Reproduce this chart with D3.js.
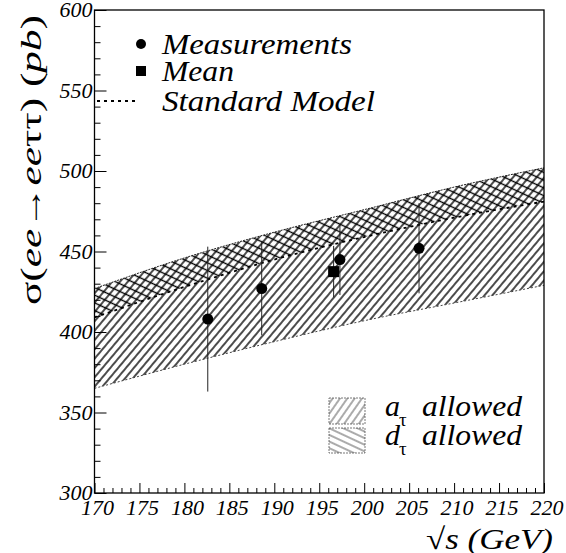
<!DOCTYPE html>
<html><head><meta charset="utf-8">
<script src="https://cdn.jsdelivr.net/npm/d3@7"></script>
</head><body style="margin:0"><svg id="c" width="566" height="553"></svg>
<script>
// ---- data ----
const energies = [170, 180, 190, 200, 210, 220];
const aUpper   = [427, 446, 462, 476, 490, 502];
const smLine   = [409, 428, 445, 459, 471, 481];
const aLower   = [365, 380, 394, 407, 418, 429];
const measX    = [182.6, 188.6, 197.3, 206.1];
const measY    = [408, 427, 445, 452];
const measErr  = [45, 29, 22, 28];
const meanX    = [196.6];
const meanY    = [437.5];
const meanErr  = [16];
const xTickLabels = [170, 175, 180, 185, 190, 195, 200, 205, 210, 215, 220];
const yTickLabels = [300, 350, 400, 450, 500, 550, 600];

const svg = d3.select("#c");
const x = d3.scaleLinear().domain([170, 220]).range([94.5, 544]);
const y = d3.scaleLinear().domain([300, 600]).range([493, 10]);
const ST_I = "font-family:'Liberation Serif';font-style:italic";
const ST_N = "font-family:'Liberation Serif';font-style:normal";

const defs = svg.append("defs");
function hatch(id, w, rot, horiz, color, sw) {
  const p = defs.append("pattern").attr("id", id).attr("patternUnits", "userSpaceOnUse")
    .attr("width", w).attr("height", w).attr("patternTransform", `rotate(${rot})`);
  if (horiz) p.append("line").attr("x1", -1).attr("y1", w / 2).attr("x2", w + 1).attr("y2", w / 2);
  else p.append("line").attr("x1", w / 2).attr("y1", -1).attr("x2", w / 2).attr("y2", w + 1);
  p.select("line").attr("stroke", color).attr("stroke-width", sw);
}
hatch("hatchA", 6, 40, false, "#000", 1.4);
hatch("hatchD", 7, 25, true, "#000", 1.4);
hatch("hatchAL", 6, 35, false, "#444", 0.9);
hatch("hatchDL", 6, 25, true, "#444", 0.9);

const idx = d3.range(energies.length);
const area = (lo, hi) => d3.area().curve(d3.curveMonotoneX)
  .x(i => x(energies[i])).y0(i => y(lo[i])).y1(i => y(hi[i]))(idx);
const line = arr => d3.line().curve(d3.curveMonotoneX).x(i => x(energies[i])).y(i => y(arr[i]))(idx);

svg.append("path").attr("d", area(aLower, aUpper)).attr("fill", "url(#hatchA)");
svg.append("path").attr("d", area(smLine, aUpper)).attr("fill", "url(#hatchD)");
svg.append("path").attr("d", line(aUpper)).attr("fill", "none").attr("stroke", "#222").attr("stroke-width", 1).attr("stroke-dasharray", "2,1");
svg.append("path").attr("d", line(aLower)).attr("fill", "none").attr("stroke", "#444").attr("stroke-width", 1).attr("stroke-dasharray", "2,2");
svg.append("path").attr("d", line(smLine)).attr("fill", "none").attr("stroke", "#000").attr("stroke-width", 1.8).attr("stroke-dasharray", "3,4");

// frame
svg.append("rect").attr("x", x(170)).attr("y", y(600)).attr("width", x(220) - x(170)).attr("height", y(300) - y(600))
  .attr("fill", "none").attr("stroke", "#000").attr("stroke-width", 1.3);

// ticks
const yAxis = d3.axisRight(y).tickValues(d3.range(300, 601, 10)).tickSize(0).tickFormat("");
const gy = svg.append("g").attr("transform", `translate(${x(170)},0)`).call(yAxis);
gy.select(".domain").remove();
gy.selectAll(".tick line").attr("x2", d => d % 50 === 0 ? 12 : 6).attr("stroke", "#000");
const xAxis = d3.axisTop(x).tickValues(d3.range(170, 221, 1)).tickSize(0).tickFormat("");
const gx = svg.append("g").attr("transform", `translate(0,${y(300)})`).call(xAxis);
gx.select(".domain").remove();
gx.selectAll(".tick line").attr("y2", d => d % 5 === 0 ? -10 : -5).attr("stroke", "#000");

// error bars
const eb = svg.append("g").attr("stroke", "#222").attr("stroke-width", 1);
eb.selectAll("line.m").data(measX).join("line").attr("class", "m")
  .attr("x1", d => x(d)).attr("x2", d => x(d))
  .attr("y1", (d, i) => y(measY[i] + measErr[i])).attr("y2", (d, i) => y(measY[i] - measErr[i]));
eb.selectAll("line.n").data(meanX).join("line").attr("class", "n")
  .attr("x1", d => x(d)).attr("x2", d => x(d))
  .attr("y1", (d, i) => y(meanY[i] + meanErr[i])).attr("y2", (d, i) => y(meanY[i] - meanErr[i]));

svg.append("g").selectAll("circle").data(measX).join("circle")
  .attr("cx", d => x(d)).attr("cy", (d, i) => y(measY[i])).attr("r", 5.5).attr("fill", "#000");
svg.append("g").selectAll("rect").data(meanX).join("rect")
  .attr("x", d => x(d) - 5.5).attr("y", (d, i) => y(meanY[i]) - 5.5).attr("width", 11).attr("height", 11).attr("fill", "#000");

// legend markers
svg.append("circle").attr("cx", 141).attr("cy", 44).attr("r", 5).attr("fill", "#000");
svg.append("rect").attr("x", 136).attr("y", 66).attr("width", 10).attr("height", 10).attr("fill", "#000");
svg.append("line").attr("x1", 97).attr("x2", 137).attr("y1", 101).attr("y2", 101)
  .attr("stroke", "#000").attr("stroke-width", 1.8).attr("stroke-dasharray", "3,4");
svg.append("rect").attr("x", 329).attr("y", 398).attr("width", 36).attr("height", 26)
  .attr("fill", "url(#hatchAL)").attr("stroke", "#555").attr("stroke-width", 0.8).attr("stroke-dasharray", "2,1");
svg.append("rect").attr("x", 329).attr("y", 428).attr("width", 36).attr("height", 25)
  .attr("fill", "url(#hatchDL)").attr("stroke", "#555").attr("stroke-width", 0.8).attr("stroke-dasharray", "2,1");

// tick labels
svg.append("g").selectAll("text").data(yTickLabels).join("text")
  .attr("style", ST_I).attr("font-size", 22)
  .attr("x", x(170) - 2).attr("y", d => y(d) + 7).attr("text-anchor", "end").text(d => d);
svg.append("g").selectAll("text").data(xTickLabels).join("text")
  .attr("style", ST_I).attr("font-size", 22)
  .attr("x", d => x(d) + 3).attr("y", 515).attr("text-anchor", "middle").text(d => d);

function txt(xp, yp, size, s, italic, len) {
  const t = svg.append("text").attr("style", italic ? ST_I : ST_N).attr("font-size", size)
    .attr("x", xp).attr("y", yp).text(s);
  if (len) t.attr("textLength", len).attr("lengthAdjust", "spacingAndGlyphs");
  return t;
}
txt(162, 54, 30, "Measurements", true, 190);
txt(162, 81, 30, "Mean", true, 72);
txt(162, 111, 30, "Standard Model", true, 213);
txt(385, 416, 30, "a", true);
txt(399, 426, 19, "τ", false);
txt(422, 416, 30, "allowed", true, 100);
txt(385, 445, 30, "d", true);
txt(399, 455, 19, "τ", false);
txt(422, 445, 30, "allowed", true, 100);

// axis titles
const yt = svg.append("text").attr("style", ST_N).attr("font-size", 30)
  .attr("transform", "translate(41,160) rotate(-90)").attr("text-anchor", "middle")
  .attr("textLength", 290).attr("lengthAdjust", "spacingAndGlyphs");
yt.append("tspan").attr("style", ST_N).text("σ(");
yt.append("tspan").attr("style", ST_I).text("ee");
yt.append("tspan").attr("style", ST_N).text("→");
yt.append("tspan").attr("style", ST_I).text("ee");
yt.append("tspan").attr("style", ST_N).text("ττ) (");
yt.append("tspan").attr("style", ST_I).text("pb");
yt.append("tspan").attr("style", ST_N).text(")");

const xt = svg.append("text").attr("style", ST_N).attr("font-size", 30).attr("x", 426).attr("y", 549)
  .attr("textLength", 127).attr("lengthAdjust", "spacingAndGlyphs");
xt.append("tspan").attr("style", ST_N).text("√");
xt.append("tspan").attr("style", ST_I).text("s (GeV)");
</script></body></html>
